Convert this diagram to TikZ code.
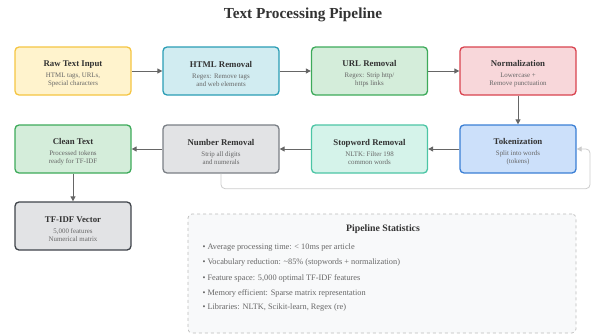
\documentclass[tikz,border=0pt]{standalone}
\usepackage{fontspec}
\setmainfont{Liberation Serif}
\usetikzlibrary{arrows.meta}
\definecolor{txt}{HTML}{333333}
\definecolor{sub}{HTML}{666666}
\definecolor{arr}{HTML}{666666}
\definecolor{yb}{HTML}{F5C542}\definecolor{yf}{HTML}{FFF3CD}
\definecolor{cb}{HTML}{2A9DB5}\definecolor{cf}{HTML}{D1ECF1}
\definecolor{gb}{HTML}{3DAA5A}\definecolor{gf}{HTML}{D4EDDA}
\definecolor{rb}{HTML}{D9434F}\definecolor{rf}{HTML}{F8D7DA}
\definecolor{bb}{HTML}{3A7FD5}\definecolor{bf}{HTML}{CCE0FA}
\definecolor{tb}{HTML}{4CC5A5}\definecolor{tf}{HTML}{D5F3EA}
\definecolor{nb}{HTML}{7A7F85}\definecolor{nf}{HTML}{E2E3E5}
\definecolor{db}{HTML}{3F444A}\definecolor{df}{HTML}{E2E3E5}
\definecolor{sb}{HTML}{BBBBBB}\definecolor{sf}{HTML}{F8F9FA}
\tikzset{
  stage/.style={draw, line width=1.3pt, rounded corners=4pt, minimum width=116pt, minimum height=48pt, align=center, inner sep=0pt, font=\fontsize{6.9}{8.4}\selectfont, text=sub},
  conn/.style={draw=arr, line width=1pt, -{Triangle[length=5pt,width=5pt]}},
  back/.style={draw=black!20, line width=0.8pt, rounded corners=4pt, -{Triangle[length=5pt,width=5pt]}},
  bul/.style={anchor=west, font=\fontsize{8.3}{10}\selectfont, text=sub}
}
\newcommand{\stg}[3]{{\rule{0pt}{12pt}\fontsize{8.8}{10}\selectfont\bfseries\color{txt}#1}\\[2.5pt]#2\\#3}
\begin{document}
\begin{tikzpicture}[x=1pt,y=-1pt]
\useasboundingbox (0,0) rectangle (595,335);
\node[font=\fontsize{15.3}{18}\selectfont\bfseries, text=txt] (title) at (303,15) {Text Processing Pipeline};
% row 1
\node[stage, draw=yb, fill=yf] (raw) at (73,71) {\stg{Raw Text Input}{HTML tags, URLs,}{Special characters}};
\node[stage, draw=cb, fill=cf] (html) at (221,71) {\stg{HTML Removal}{Regex: Remove tags}{and web elements}};
\node[stage, draw=gb, fill=gf] (url) at (369.5,71) {\stg{URL Removal}{Regex: Strip http/}{https links}};
\node[stage, draw=rb, fill=rf] (norm) at (518,71) {\stg{Normalization}{Lowercase +}{Remove punctuation}};
% row 2
\node[stage, draw=bb, fill=bf] (tok) at (518,149) {\stg{Tokenization}{Split into words}{(tokens)}};
\node[stage, draw=tb, fill=tf] (stop) at (369.5,149) {\stg{Stopword Removal}{NLTK: Filter 198}{common words}};
\node[stage, draw=nb, fill=nf] (num) at (221,149) {\stg{Number Removal}{Strip all digits}{and numerals}};
\node[stage, draw=gb, fill=gf] (clean) at (73,149) {\stg{Clean Text}{Processed tokens}{ready for TF-IDF}};
\node[stage, draw=db, fill=df] (tfidf) at (73,226) {\stg{TF-IDF Vector}{5,000 features}{Numerical matrix}};
% connectors
\draw[conn] (raw) -- (html);
\draw[conn] (html) -- (url);
\draw[conn] (url) -- (norm);
\draw[conn] (norm) -- (tok);
\draw[conn] (tok) -- (stop);
\draw[conn] (stop) -- (num);
\draw[conn] (num) -- (clean);
\draw[conn] (clean) -- (tfidf);
\draw[back] (num.south) -- ++(0,15) -| (590,149) -- (tok.east);
% statistics
\node[draw=sb, fill=sf, dashed, line width=0.7pt, rounded corners=4pt, minimum width=388pt, minimum height=119pt, inner sep=0pt] (stats) at (382,273.5) {};
\node[font=\fontsize{9.8}{12}\selectfont\bfseries, text=txt] (sttl) at (383,229) {Pipeline Statistics};
\node[bul] (b1) at (199,248) {\textbullet\ Average processing time: < 10ms per article};
\node[bul] (b2) at (199,263) {\textbullet\ Vocabulary reduction: \textasciitilde 85\% (stopwords + normalization)};
\node[bul] (b3) at (199,278) {\textbullet\ Feature space: 5,000 optimal TF-IDF features};
\node[bul] (b4) at (199,293) {\textbullet\ Memory efficient: Sparse matrix representation};
\node[bul] (b5) at (199,308) {\textbullet\ Libraries: NLTK, Scikit-learn, Regex (re)};
\end{tikzpicture}
\end{document}
